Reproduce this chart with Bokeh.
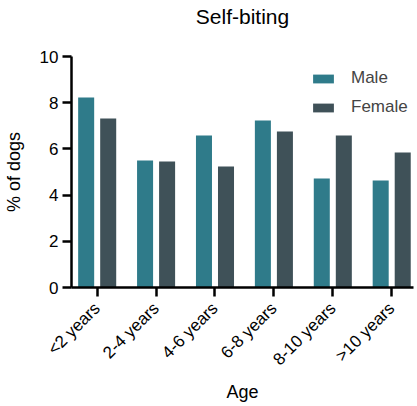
import math
from bokeh.plotting import figure
from bokeh.models import ColumnDataSource, Range1d, FixedTicker, Legend, LegendItem, Title
from bokeh.embed import file_html
from bokeh.resources import INLINE

categories = ["<2 years", "2-4 years", "4-6 years", "6-8 years", "8-10 years", ">10 years"]
male = [8.22, 5.50, 6.58, 7.23, 4.72, 4.63]
female = [7.32, 5.45, 5.24, 6.75, 6.58, 5.84]
y_ticks = [0, 2, 4, 6, 8, 10]
title_text = "Self-biting"

FONT = "Liberation Sans"
MALE_C = "#2f7b8a"
FEMALE_C = "#3f5158"

idx = list(range(len(categories)))
src = ColumnDataSource(dict(
    xm=[i - 0.187 for i in idx],
    xf=[i + 0.187 for i in idx],
    male=male, female=female,
))

p = figure(frame_width=342, frame_height=231, output_backend="svg", toolbar_location=None,
           x_range=Range1d(-0.436, 5.37), y_range=Range1d(0, 10),
           min_border_left=70, min_border_right=1, min_border_top=55, min_border_bottom=40)

rm = p.vbar(x="xm", top="male", width=0.272, source=src, color=MALE_C, line_color=None)
rf = p.vbar(x="xf", top="female", width=0.272, source=src, color=FEMALE_C, line_color=None)

# default title emptied; a thin spacer panel sits between the real title and the frame
p.title.text = ""
p.title.standoff = 0
spacer = Title(text=" ", text_font_size="1px", standoff=20)
p.add_layout(spacer, "above")
main_title = Title(text=title_text, align="center", vertical_align="top", standoff=8,
                   text_font=FONT, text_font_size="21px", text_font_style="normal",
                   text_color="black")
p.add_layout(main_title, "above")

p.xgrid.visible = False
p.ygrid.visible = False
p.outline_line_color = None
p.border_fill_color = "white"
p.background_fill_color = "white"

for ax in (p.xaxis[0], p.yaxis[0]):
    ax.axis_line_width = 2.5
    ax.axis_line_color = "black"
    ax.major_tick_line_width = 2.5
    ax.major_tick_line_color = "black"
    ax.major_tick_in = 0
    ax.major_tick_out = 9
    ax.minor_tick_line_color = None
    ax.major_label_text_font = FONT
    ax.major_label_text_font_size = "17px"
    ax.major_label_text_color = "black"
    ax.axis_label_text_font = FONT
    ax.axis_label_text_font_size = "18px"
    ax.axis_label_text_font_style = "normal"
    ax.axis_label_text_color = "black"

p.yaxis.ticker = FixedTicker(ticks=y_ticks)
p.yaxis.axis_label = "% of dogs"
p.yaxis.major_label_standoff = 4
p.yaxis.axis_label_standoff = 13

p.xaxis.ticker = FixedTicker(ticks=idx)
p.xaxis.major_label_overrides = {i: c for i, c in zip(idx, categories)}
p.xaxis.major_label_orientation = math.pi / 4
p.xaxis.major_label_standoff = 9
p.xaxis.axis_label = "Age"
p.xaxis.axis_label_standoff = 3

legend = Legend(items=[LegendItem(label="Male", renderers=[rm]),
                       LegendItem(label="Female", renderers=[rf])],
                location=(239, 170), glyph_width=26, glyph_height=11,
                label_height=20, spacing=9, padding=0, margin=0,
                label_standoff=15, label_text_font=FONT, label_text_font_size="17px",
                border_line_alpha=0, background_fill_alpha=0)
p.add_layout(legend)

open("out.html", "w").write(file_html(p, INLINE))
